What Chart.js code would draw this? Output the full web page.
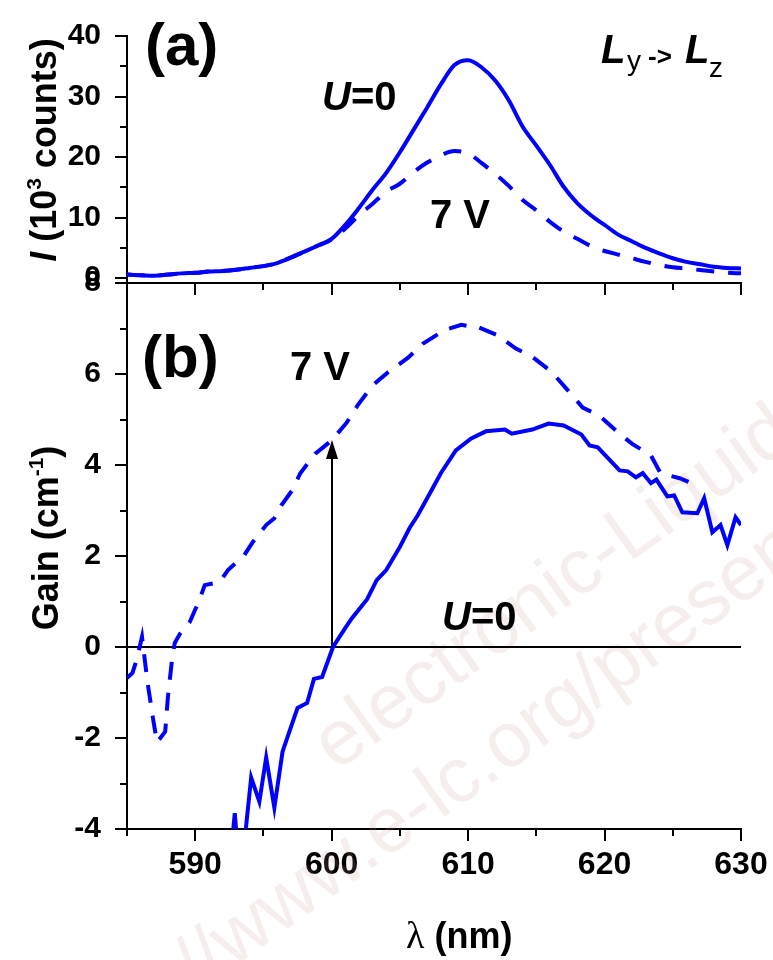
<!DOCTYPE html>
<html>
<head>
<meta charset="utf-8">
<script src="https://cdn.jsdelivr.net/npm/chart.js@4.4.1/dist/chart.umd.min.js"></script>
<style>
  body { margin: 0; background: #fff; }
  #wrap { position: relative; width: 773px; height: 960px; }
  #wrap canvas { position: absolute; left: 0; top: 0; }
</style>
</head>
<body>
<div id="wrap">
  <canvas id="chartA" width="773" height="960"></canvas>
  <canvas id="chartB" width="773" height="960"></canvas>
</div>
<script>
// (a) emission, 10^3 counts
const wavelengthA = [585, 586, 587, 588, 589, 590, 591, 592, 593, 594, 595, 596, 597, 598, 599, 600,
  601, 602, 603, 604, 605, 606, 607, 608, 609, 610, 611, 612, 613, 614, 615, 616, 617, 618, 619, 620,
  621, 622, 623, 624, 625, 626, 627, 628, 629, 630];
const intensityU0 = [0.6, 0.5, 0.4, 0.6, 0.8, 0.9, 1.1, 1.2, 1.4, 1.7, 2.0, 2.5, 3.4, 4.4, 5.4, 6.5,
  8.8, 11.6, 14.6, 17.4, 20.8, 24.5, 28.2, 32.0, 35.2, 36.0, 34.8, 32.6, 29.3, 25.0, 21.9, 18.7,
  15.1, 12.4, 10.4, 8.8, 7.2, 6.1, 5.0, 4.1, 3.3, 2.7, 2.3, 1.9, 1.7, 1.6];
const intensity7V = [0.6, 0.5, 0.4, 0.6, 0.8, 0.9, 1.1, 1.2, 1.4, 1.7, 2.0, 2.5, 3.4, 4.4, 5.4, 6.4,
  8.2, 10.4, 12.3, 14.3, 15.6, 17.5, 19.1, 20.3, 21.0, 20.6, 19.0, 17.2, 15.2, 12.9, 11.2, 9.3,
  7.7, 6.5, 5.3, 4.5, 3.9, 3.3, 2.7, 2.2, 1.8, 1.6, 1.35, 1.1, 0.9, 0.8];

// (b) gain, cm^-1
const gainU0Wl = [592.6, 592.9, 593.2, 593.5, 594.1, 594.7, 595.2, 595.8, 596.4, 596.9, 597.5, 598.2,
  598.7, 599.3, 600.1, 601.0, 601.5, 602.6, 603.3, 604.0, 605.0, 605.7, 606.3, 607.2, 608.0, 609.1,
  610.2, 611.3, 612.7, 613.2, 614.7, 615.9, 617.0, 618.3, 618.9, 619.5, 621.1, 621.7, 622.3, 622.8,
  623.4, 623.8, 624.6, 625.1, 625.7, 626.8, 627.3, 627.9, 628.5, 629.0, 629.6, 630.0];
const gainU0 = [-4.6, -3.65, -4.8, -4.6, -2.87, -3.4, -2.43, -3.53, -2.3, -1.86, -1.34, -1.23,
  -0.7, -0.66, 0.0, 0.42, 0.64, 1.05, 1.47, 1.69, 2.2, 2.61, 2.89, 3.38, 3.82, 4.32,
  4.58, 4.74, 4.78, 4.69, 4.78, 4.91, 4.87, 4.67, 4.43, 4.39, 3.88, 3.86, 3.73, 3.82,
  3.6, 3.68, 3.31, 3.33, 2.96, 2.94, 3.27, 2.52, 2.68, 2.24, 2.85, 2.68];
const gain7VWl = [585.0, 585.4, 585.7, 586.1, 586.5, 586.9, 587.2, 587.8, 588.0, 588.3, 588.5, 588.9,
  589.6, 590.3, 590.7, 591.8, 592.4, 593.6, 594.2, 595.2, 595.8, 596.3, 597.1, 597.7, 598.8, 600.0,
  601.1, 601.9, 603.0, 604.1, 605.6, 606.7, 608.3, 609.5, 610.8, 612.1, 613.5, 614.7, 616.1, 617.2,
  618.4, 619.6, 621.0, 622.0, 623.4, 624.1, 625.5, 626.4];
const gain7V = [-0.68, -0.57, -0.29, 0.22, -0.77, -1.56, -2.1, -1.86, -1.09, -0.28, 0.09, 0.3,
  0.55, 1.03, 1.36, 1.43, 1.69, 2.02, 2.3, 2.68, 2.83, 3.11, 3.44, 3.82, 4.25, 4.54,
  4.93, 5.31, 5.75, 6.03, 6.36, 6.67, 6.97, 7.08, 7.02, 6.86, 6.56, 6.38, 6.05, 5.68,
  5.26, 5.09, 4.71, 4.47, 4.21, 3.82, 3.71, 3.6];

const xTicks = [590, 600, 610, 620, 630];
const xMinor = [585, 595, 605, 615, 625];
const yTicksA = [0, 10, 20, 30, 40];
const yMinorA = [5, 15, 25, 35];
const yTicksB = [-4, -2, 0, 2, 4, 6, 8];
const yMinorB = [-3, -1, 1, 3, 5, 7];
const arrowAt = 600, arrowFrom = 0, arrowTo = 4.55;

const SANS = '"Liberation Sans", Arial, sans-serif';
const BLUE = '#0000ff';
const pts = (xs, ys) => xs.map((x, i) => ({ x, y: ys[i] }));

function drawParts(ctx, parts, x, y) {
  let cx = x;
  for (const [text, font, dy] of parts) {
    ctx.font = font;
    ctx.fillText(text, cx, y + (dy || 0));
    cx += ctx.measureText(text).width;
  }
}
function partsWidth(ctx, parts) {
  let w = 0;
  for (const [text, font] of parts) { ctx.font = font; w += ctx.measureText(text).width; }
  return w;
}
function drawVertical(ctx, parts, cx, cy) {
  ctx.save();
  ctx.translate(cx, cy);
  ctx.rotate(-Math.PI / 2);
  drawParts(ctx, parts, -partsWidth(ctx, parts) / 2, 0);
  ctx.restore();
}

// major / minor tick marks pointing out of the axes
const tickMarks = {
  id: 'tickMarks',
  afterDraw(chart, args, o) {
    const { ctx, chartArea: a } = chart;
    const x = chart.scales.x, y = chart.scales.y;
    ctx.save();
    ctx.strokeStyle = '#000';
    ctx.lineWidth = 2;
    ctx.beginPath();
    const tx = (v, len) => { const p = Math.round(x.getPixelForValue(v)); ctx.moveTo(p, a.bottom); ctx.lineTo(p, a.bottom + len); };
    const ty = (v, len) => { const p = Math.round(y.getPixelForValue(v)); ctx.moveTo(a.left, p); ctx.lineTo(a.left - len, p); };
    xTicks.forEach(v => tx(v, 12));
    xMinor.forEach(v => tx(v, 7));
    o.yMajor.forEach(v => ty(v, 12));
    o.yMinor.forEach(v => ty(v, 7));
    ctx.stroke();
    ctx.restore();
  }
};

const notesA = {
  id: 'notesA',
  afterDraw(chart) {
    const { ctx } = chart;
    ctx.save();
    ctx.fillStyle = '#000';
    ctx.textBaseline = 'alphabetic';
    ctx.textAlign = 'left';
    drawParts(ctx, [['(a)', 'bold 60px ' + SANS]], 145, 65);
    drawParts(ctx, [['U', 'italic bold 40px ' + SANS], ['=0', 'bold 40px ' + SANS]], 322, 110);
    drawParts(ctx, [['7 V', 'bold 40px ' + SANS]], 430, 228);
    drawParts(ctx, [['L', 'italic bold 40px ' + SANS]], 601, 63);
    drawParts(ctx, [['y', '28px ' + SANS]], 627, 70);
    drawParts(ctx, [['->', 'bold 26px ' + SANS]], 648, 65);
    drawParts(ctx, [['L', 'italic bold 40px ' + SANS]], 685, 63);
    drawParts(ctx, [['z', '28px ' + SANS]], 709, 77);
    drawVertical(ctx, [['I', 'italic bold 36px ' + SANS], [' (10', 'bold 36px ' + SANS],
      ['3', 'bold 21px ' + SANS, -15], [' counts)', 'bold 36px ' + SANS]], 56, 150);
    ctx.restore();
  }
};

function watermark(ctx, x, y, before, after) {
  ctx.save();
  ctx.fillStyle = 'rgba(200, 150, 140, 0.16)';
  ctx.font = '78px ' + SANS;
  ctx.translate(x, y);
  ctx.rotate(-0.62);
  ctx.textAlign = 'right';
  ctx.fillText(before, 0, 0);
  ctx.textAlign = 'left';
  ctx.fillText(after, 0, 0);
  ctx.restore();
}

const notesB = {
  id: 'notesB',
  beforeDatasetsDraw(chart) {
    const { ctx, chartArea: a, scales: { x, y } } = chart;
    watermark(ctx, 336, 772, '', 'electronic-Liquid Crystal');
    watermark(ctx, 384, 860, 'http://www.', 'e-lc.org/presentations');
    ctx.save();
    ctx.strokeStyle = '#000';
    ctx.lineWidth = 2;
    const y0 = Math.round(y.getPixelForValue(0));
    ctx.beginPath();
    ctx.moveTo(a.left, y0);
    ctx.lineTo(a.right, y0);
    ctx.stroke();
    // arrow U=0 -> 7 V
    const ax = Math.round(x.getPixelForValue(arrowAt));
    const yFrom = y.getPixelForValue(arrowFrom), yTo = y.getPixelForValue(arrowTo);
    ctx.beginPath();
    ctx.moveTo(ax, yFrom);
    ctx.lineTo(ax, yTo + 15);
    ctx.stroke();
    ctx.fillStyle = '#000';
    ctx.beginPath();
    ctx.moveTo(ax, yTo);
    ctx.lineTo(ax - 6, yTo + 19);
    ctx.lineTo(ax + 6, yTo + 19);
    ctx.closePath();
    ctx.fill();
    ctx.restore();
  },
  afterDraw(chart) {
    const { ctx } = chart;
    ctx.save();
    ctx.fillStyle = '#000';
    ctx.textBaseline = 'alphabetic';
    ctx.textAlign = 'left';
    drawParts(ctx, [['(b)', 'bold 60px ' + SANS]], 142, 377);
    drawParts(ctx, [['7 V', 'bold 40px ' + SANS]], 290, 380);
    drawParts(ctx, [['U', 'italic bold 40px ' + SANS], ['=0', 'bold 40px ' + SANS]], 442, 630);
    drawVertical(ctx, [['Gain (cm', 'bold 36px ' + SANS], ['-1', 'bold 21px ' + SANS, -15],
      [')', 'bold 36px ' + SANS]], 58, 538);
    drawParts(ctx, [['\u03bb', '38px "Liberation Serif", "Times New Roman", serif'],
      [' (nm)', 'bold 36px ' + SANS]], 406, 948);
    ctx.restore();
  }
};

const axisBorder = { display: true, color: '#000', width: 2 };
const tickFont = { family: SANS, size: 30, weight: 'bold' };

new Chart(document.getElementById('chartA'), {
  type: 'line',
  data: {
    datasets: [
      { data: pts(wavelengthA, intensityU0), borderColor: BLUE, borderWidth: 4, pointRadius: 0,
        cubicInterpolationMode: 'monotone' },
      { data: pts(wavelengthA, intensity7V), borderColor: BLUE, borderWidth: 4, pointRadius: 0,
        borderDash: [18, 14], cubicInterpolationMode: 'monotone' }
    ]
  },
  options: {
    responsive: false,
    animation: false,
    devicePixelRatio: 1,
    layout: { padding: { left: 0, right: 32, top: 25, bottom: 663 } },
    plugins: {
      legend: { display: false },
      tooltip: { enabled: false },
      tickMarks: { yMajor: yTicksA, yMinor: yMinorA }
    },
    scales: {
      x: {
        type: 'linear', min: 585, max: 630,
        grid: { display: false }, border: axisBorder,
        ticks: { display: false },
        afterFit: s => { s.height = 14; s.paddingLeft = 0; s.paddingRight = 0; }
      },
      y: {
        type: 'linear', min: -0.79, max: 40,
        grid: { display: false }, border: axisBorder,
        ticks: { font: tickFont, color: '#000', padding: 18 },
        afterBuildTicks: s => { s.ticks = yTicksA.map(v => ({ value: v })); },
        afterFit: s => { s.width = 127; }
      }
    }
  },
  plugins: [tickMarks, notesA]
});

new Chart(document.getElementById('chartB'), {
  type: 'line',
  data: {
    datasets: [
      { data: pts(gainU0Wl, gainU0), borderColor: BLUE, borderWidth: 4, pointRadius: 0, tension: 0 },
      { data: pts(gain7VWl, gain7V), borderColor: BLUE, borderWidth: 4, pointRadius: 0, tension: 0,
        borderDash: [18, 13] }
    ]
  },
  options: {
    responsive: false,
    animation: false,
    devicePixelRatio: 1,
    layout: { padding: { left: 0, right: 32, top: 283, bottom: 0 } },
    plugins: {
      legend: { display: false },
      tooltip: { enabled: false },
      tickMarks: { yMajor: yTicksB, yMinor: yMinorB }
    },
    scales: {
      x: {
        type: 'linear', min: 585, max: 630,
        grid: { display: false }, border: axisBorder,
        ticks: { font: { family: SANS, size: 32, weight: 'bold' }, color: '#000', padding: 9, maxRotation: 0 },
        afterBuildTicks: s => { s.ticks = xTicks.map(v => ({ value: v })); },
        afterFit: s => { s.height = 131; s.paddingLeft = 0; s.paddingRight = 0; }
      },
      y: {
        type: 'linear', min: -4, max: 8,
        grid: { display: false }, border: axisBorder,
        ticks: { font: tickFont, color: '#000', padding: 18 },
        afterBuildTicks: s => { s.ticks = yTicksB.map(v => ({ value: v })); },
        afterFit: s => { s.width = 127; }
      }
    }
  },
  plugins: [tickMarks, notesB]
});
</script>
</body>
</html>
